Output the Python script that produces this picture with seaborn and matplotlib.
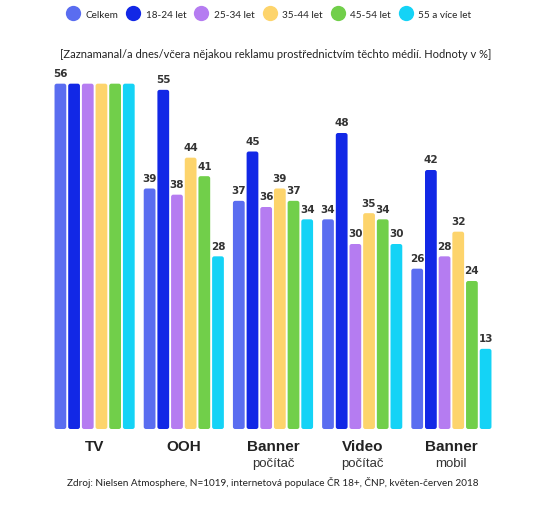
import pandas as pd
import numpy as np
import matplotlib.pyplot as plt
import seaborn as sns
from matplotlib.patches import FancyBboxPatch
from matplotlib.lines import Line2D

# data
media = ['TV', 'OOH', 'Banner', 'Video', 'Banner']
media_sub = ['', '', 'počítač', 'počítač', 'mobil']
media_keys = ['TV', 'OOH', 'Banner počítač', 'Video počítač', 'Banner mobil']
groups = ['Celkem', '18-24 let', '25-34 let', '35-44 let', '45-54 let', '55 a více let']
celkem = [56, 39, 37, 34, 26]
age_18_24 = [56, 55, 45, 48, 42]
age_25_34 = [56, 38, 36, 30, 28]
age_35_44 = [56, 44, 39, 35, 32]
age_45_54 = [56, 41, 37, 34, 24]
age_55 = [56, 28, 34, 30, 13]
colors = ['#5a6df0', '#1228e6', '#b57cf1', '#fdd46c', '#71cf4a', '#14d3f6']

series = [celkem, age_18_24, age_25_34, age_35_44, age_45_54, age_55]
rows = []
for g, vals in zip(groups, series):
    for m, v in zip(media_keys, vals):
        rows.append({'media': m, 'group': g, 'value': v})
df = pd.DataFrame(rows)

sns.set_style('white')
plt.rcParams['font.family'] = ['Lato', 'DejaVu Sans']

fig = plt.figure(figsize=(5.45, 5.10), dpi=100)
W, H = 545, 510
ax_left, ax_right, ax_bottom, ax_top = 50, 496, 430, 60
ax = fig.add_axes([ax_left / W, 1 - ax_bottom / H, (ax_right - ax_left) / W, (ax_bottom - ax_top) / H])

sns.barplot(data=df, x='media', y='value', hue='group', order=media_keys, hue_order=groups,
            palette=colors, width=0.92, gap=0.14, ax=ax, legend=False, saturation=1)

ax.set_xlim(-0.5, 4.5)
ax.set_ylim(0, 60)

# rounded bars
px_x = (ax_right - ax_left) / 5.0
px_y = (ax_bottom - ax_top) / 60.0
aspect = px_x / px_y
bars = []
for p in list(ax.patches):
    x, y = p.get_x(), p.get_y()
    w, h = p.get_width(), p.get_height()
    fc = p.get_facecolor()
    p.remove()
    fb = FancyBboxPatch((x, y), w, h, boxstyle='round,pad=0,rounding_size=0.025',
                        mutation_aspect=aspect, facecolor=fc, edgecolor='none')
    ax.add_patch(fb)
    bars.append((x + w / 2, h))

# value labels (TV only labelled once, all groups equal)
for k, (cx, h) in enumerate(bars):
    if k % 5 == 0 and k // 5 > 0:
        continue
    ax.text(cx, h + 0.9, f'{int(round(h))}', ha='center', va='bottom', fontsize=7.5,
            fontweight='bold', color='#333333', family=['DejaVu Sans'])

for s in ax.spines.values():
    s.set_visible(False)
ax.set_xticks([])
ax.set_yticks([])
ax.set_xlabel('')
ax.set_ylabel('')

for i, (m, sub) in enumerate(zip(media, media_sub)):
    ax.text(i, -1.6, m, ha='center', va='top', fontsize=11, fontweight='bold',
            color='#222222', family=['Liberation Sans'], clip_on=False)
    if sub:
        ax.text(i, -4.6, sub, ha='center', va='top', fontsize=9.5,
                color='#333333', family=['Liberation Sans'], clip_on=False)

handles = [Line2D([0], [0], marker='o', linestyle='', markersize=11,
                  markerfacecolor=c, markeredgecolor='none') for c in colors]
fig.legend(handles, groups, loc='center', bbox_to_anchor=(0.493, 1 - 15 / H), ncol=6,
           frameon=False, fontsize=7.2, handletextpad=0.55, columnspacing=0.8,
           handlelength=1.4)

fig.text(0.505, 1 - 55 / H, '[Zaznamanal/a dnes/včera nějakou reklamu prostřednictvím těchto médií. Hodnoty v %]',
         ha='center', va='center', fontsize=8, color='#222222')
fig.text(0.5, 1 - 483 / H, 'Zdroj: Nielsen Atmosphere, N=1019, internetová populace ČR 18+, ČNP, květen-červen 2018',
         ha='center', va='center', fontsize=7.2, color='#222222')

fig.savefig('out.png', dpi=100)
